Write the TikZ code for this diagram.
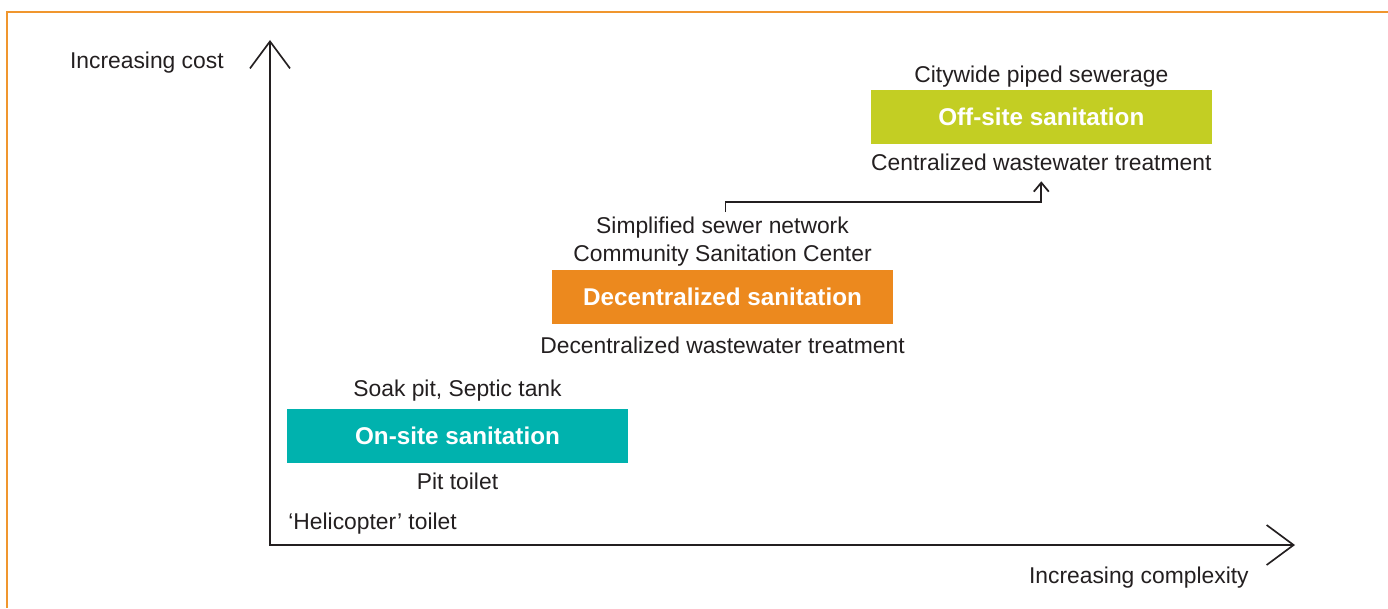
\documentclass[tikz,border=0pt]{standalone}
\usepackage{fontspec}
\setmainfont{Liberation Sans}
\usetikzlibrary{arrows.meta, positioning}

\definecolor{frameorange}{HTML}{F0962E}
\definecolor{onsiteteal}{HTML}{00B2AE}
\definecolor{decorange}{HTML}{EC891E}
\definecolor{offsitelime}{HTML}{C3CE23}
\definecolor{inkgray}{HTML}{231F20}

\begin{document}
\begin{tikzpicture}[
    x=0.02cm, y=-0.02cm,
    axis/.style={draw=inkgray, line width=0.95pt, {Straight Barb[length=0.54cm, width=0.8cm]}-{Straight Barb[length=0.54cm, width=0.8cm]}},
    link/.style={draw=inkgray, line width=1pt, -{Straight Barb[length=0.18cm, width=0.3cm]}},
    box/.style={rectangle, minimum width=6.82cm, minimum height=1.08cm, inner sep=0, text=white, font=\fontsize{13.8}{16}\selectfont\bfseries},
    lbl/.style={inner sep=0, text=inkgray, font=\fontsize{13}{15}\selectfont, text height=9.4pt, text depth=2.7pt}
]
\useasboundingbox (0,0) rectangle (1388,608);

% Frame
\draw[frameorange, line width=0.6pt] (1388,12) -| (7,608);

% Axes
\coordinate (ytip) at (270,40);
\coordinate (xtip) at (1295,545);
\draw[axis] (ytip) |- (xtip);
\node[lbl, anchor=base east] (cost) at (224,69) {Increasing cost};
\node[lbl, anchor=base east] (complexity) at (1249,583) {Increasing complexity};

% Boxes
\node[box, fill=onsiteteal] (onsite) at (457.5,436) {On-site sanitation};
\node[box, fill=decorange] (decentral) at (722.5,297) {Decentralized sanitation};
\node[box, fill=offsitelime] (offsite) at (1041.3,117) {Off-site sanitation};

% Labels
\node[lbl, above=0.14cm of onsite] (soakpit) {Soak pit, Septic tank};
\node[lbl, below=0.18cm of onsite] (pittoilet) {Pit toilet};
\node[lbl, anchor=base west] (heli) at (288,529) {`Helicopter' toilet};
\node[lbl, above=0.06cm of decentral] (community) {Community Sanitation Center};
\node[lbl, above=0.13cm of community] (simplified) {Simplified sewer network};
\node[lbl, below=0.24cm of decentral] (decwaste) {Decentralized wastewater treatment};
\node[lbl, above=0.05cm of offsite] (citywide) {Citywide piped sewerage};
\node[lbl, below=0.18cm of offsite] (central) {Centralized wastewater treatment};

% Upgrade path
\draw[link] ([xshift=0.06cm, yshift=0.08cm]simplified.north) -- ++(0,-10) -| ([yshift=-0.12cm]central.south);

\end{tikzpicture}
\end{document}
